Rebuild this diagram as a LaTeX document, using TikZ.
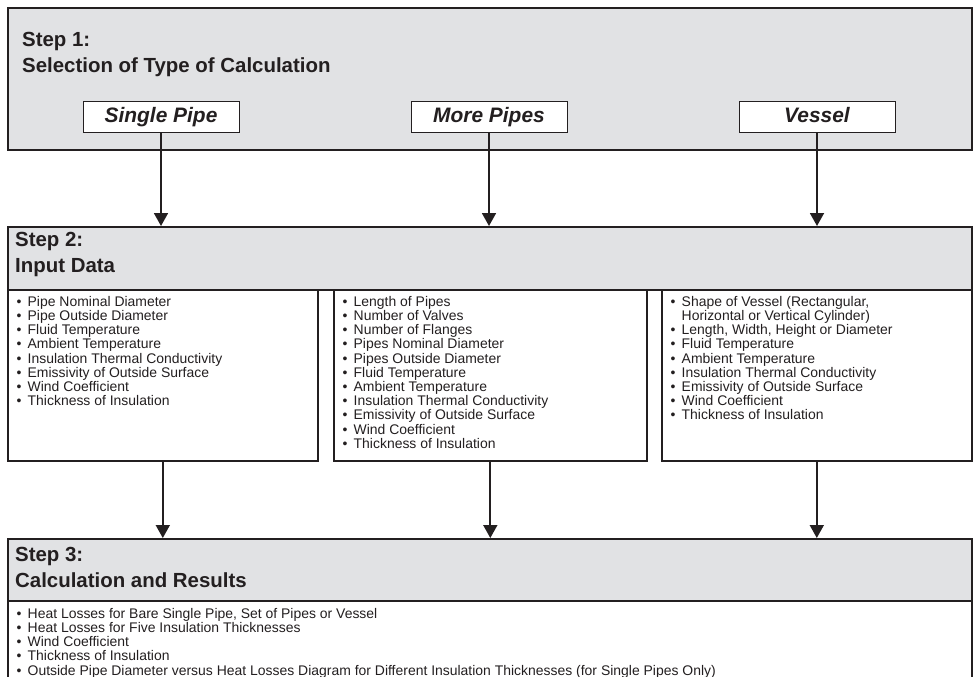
\documentclass[tikz,border=0pt]{standalone}
\usepackage{fontspec}
\setmainfont{Liberation Sans}
\usetikzlibrary{arrows.meta}

\definecolor{panelgray}{RGB}{225,226,228}
\definecolor{inkblack}{RGB}{35,31,32}

\tikzset{
  panel/.style={draw=inkblack, line width=1.6bp, fill=panelgray, anchor=north west, inner sep=0pt},
  listbox/.style={draw=inkblack, line width=1.6bp, fill=white, anchor=north west, inner sep=0pt},
  choice/.style={draw=inkblack, line width=1bp, fill=white, inner sep=0pt,
    minimum width=156bp, minimum height=31bp, text=inkblack,
    text height=15bp, text depth=4bp,
    font=\fontsize{21}{24}\selectfont\bfseries\itshape},
  steptitle/.style={anchor=north west, inner sep=0pt, align=left, text=inkblack,
    font=\fontsize{20.5}{26}\selectfont\bfseries},
  items/.style={anchor=north west, inner sep=0pt, align=left, text=inkblack,
    font=\fontsize{14}{14.25}\selectfont},
  flow/.style={draw=inkblack, line width=1.8bp, -{Triangle[width=14bp,length=13bp]}},
}
\newcommand{\bul}{\makebox[11bp][l]{\textbullet}}

\begin{document}
\begin{tikzpicture}[x=1bp, y=-1bp]
    \useasboundingbox (0,0) rectangle (973,677);
    \clip (0,0) rectangle (973,677);

    % Step 1: type of calculation
    \node[panel, minimum width=964bp, minimum height=142bp] (step1) at (7,7) {};
    \node[steptitle] (step1title) at (22,32) {Step 1:\\Selection of Type of Calculation};
    \node[choice] (single) at (161,117.5) {Single Pipe};
    \node[choice] (more) at (489,117.5) {More Pipes};
    \node[choice] (vessel) at (817,117.5) {Vessel};

    % Step 2: input data
    \node[panel, minimum width=964bp, minimum height=63bp] (step2) at (7,226) {};
    \node[steptitle] (step2title) at (15,232) {Step 2:\\Input Data};

    \node[listbox, minimum width=310bp, minimum height=171bp] (inleft) at (7,289) {};
    \node[listbox, minimum width=313bp, minimum height=171bp] (inmid) at (333,289) {};
    \node[listbox, minimum width=310bp, minimum height=171bp] (inright) at (661,289) {};

    \node[items] (leftlist) at (16.5,296) {%
      \bul Pipe Nominal Diameter\\
      \bul Pipe Outside Diameter\\
      \bul Fluid Temperature\\
      \bul Ambient Temperature\\
      \bul Insulation Thermal Conductivity\\
      \bul Emissivity of Outside Surface\\
      \bul Wind Coefficient\\
      \bul Thickness of Insulation};
    \node[items] (midlist) at (342.5,296) {%
      \bul Length of Pipes\\
      \bul Number of Valves\\
      \bul Number of Flanges\\
      \bul Pipes Nominal Diameter\\
      \bul Pipes Outside Diameter\\
      \bul Fluid Temperature\\
      \bul Ambient Temperature\\
      \bul Insulation Thermal Conductivity\\
      \bul Emissivity of Outside Surface\\
      \bul Wind Coefficient\\
      \bul Thickness of Insulation};
    \node[items] (rightlist) at (670.5,296) {%
      \bul Shape of Vessel (Rectangular,\\
      \hspace*{11bp}Horizontal or Vertical Cylinder)\\
      \bul Length, Width, Height or Diameter\\
      \bul Fluid Temperature\\
      \bul Ambient Temperature\\
      \bul Insulation Thermal Conductivity\\
      \bul Emissivity of Outside Surface\\
      \bul Wind Coefficient\\
      \bul Thickness of Insulation};

    % Step 3: results
    \node[panel, minimum width=964bp, minimum height=62bp] (step3) at (7,538) {};
    \node[steptitle] (step3title) at (15,547) {Step 3:\\Calculation and Results};
    \node[listbox, minimum width=964bp, minimum height=90bp] (results) at (7,600) {};
    \node[items] (resultlist) at (16.5,608) {%
      \bul Heat Losses for Bare Single Pipe, Set of Pipes or Vessel\\
      \bul Heat Losses for Five Insulation Thicknesses\\
      \bul Wind Coefficient\\
      \bul Thickness of Insulation\\
      \bul Outside Pipe Diameter versus Heat Losses Diagram for Different Insulation Thicknesses (for Single Pipes Only)};

    % arrows between the steps
    \foreach \a/\b in {single/inleft, more/inmid, vessel/inright} {
        \draw[flow] (\a.south) -- (\a.south |- step2.north);
        \draw[flow] (\b.south) -- (\b.south |- step3.north);
    }
\end{tikzpicture}
\end{document}
